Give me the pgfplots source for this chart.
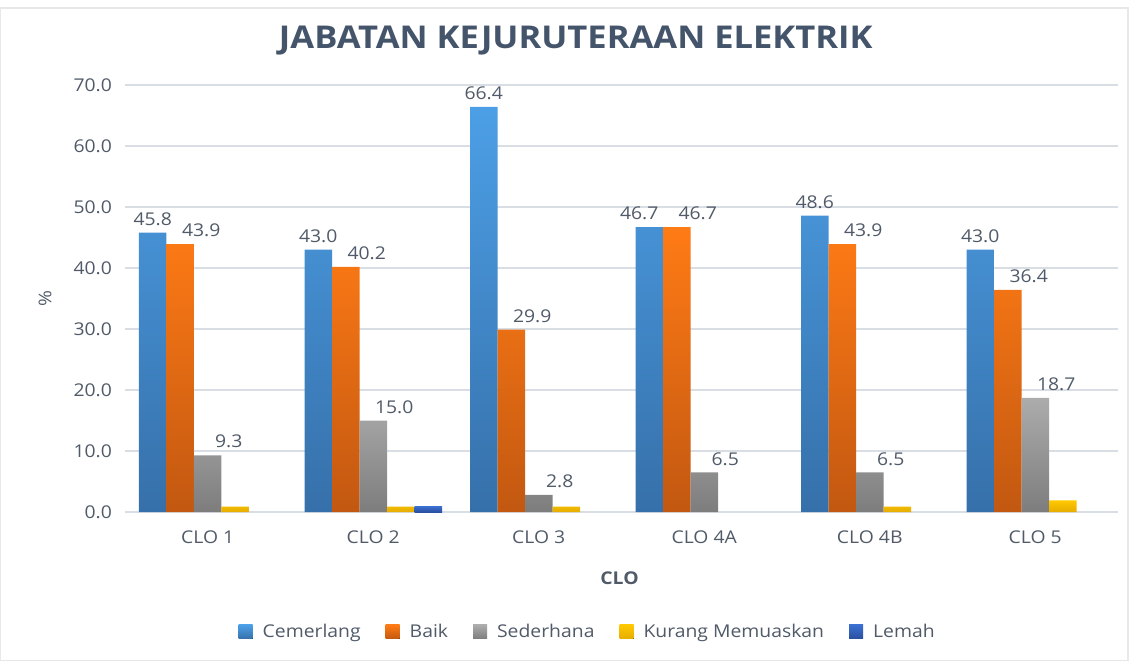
\documentclass[border=0pt]{standalone}
\usepackage{fontspec}
\setmainfont{Open Sans}[FakeStretch=1.1]
\usepackage{pgfplots}
\pgfplotsset{compat=1.18}
\definecolor{txt}{HTML}{505A68}
\definecolor{ttl}{HTML}{44546A}
\definecolor{gridc}{HTML}{D9DEE5}
\definecolor{blueT}{HTML}{4C9FE6}
\definecolor{blueB}{HTML}{3670AA}
\definecolor{orT}{HTML}{FF7B15}
\definecolor{orB}{HTML}{C25811}
\definecolor{grT}{HTML}{ACACAC}
\definecolor{grB}{HTML}{7D7D7D}
\definecolor{yeT}{HTML}{FFC800}
\definecolor{yeB}{HTML}{E6AC00}
\definecolor{leT}{HTML}{3A6FD0}
\definecolor{leB}{HTML}{2A4F9E}
\begin{document}
\begin{tikzpicture}
\path[use as bounding box] (0,0) rectangle (568pt,330.5pt);
\draw[gray!18, line width=0.6pt] (0.3pt,0.3pt) rectangle (564pt,326.5pt);
\begin{axis}[
  at={(62.5pt,74.5pt)}, anchor=south west,
  scale only axis, width=496.5pt, height=213.5pt,
  ybar=0pt, bar width=13.75pt,
  xmin=-0.5, xmax=5.5, ymin=0, ymax=70,
  xtick={0,...,5}, xticklabels={CLO 1,CLO 2,CLO 3,CLO 4A,CLO 4B,CLO 5},
  ytick={0,10,...,70},
  /pgf/number format/fixed, /pgf/number format/fixed zerofill, /pgf/number format/precision=1,
  /pgf/number format/assume math mode=true,
  yticklabel style={xshift=-3pt},
  xticklabel style={yshift=-6pt},
  major tick length=0pt,
  ymajorgrids, grid style={draw=gridc, line width=0.7pt},
  axis x line*=bottom, axis y line*=left,
  y axis line style={draw=none},
  x axis line style={draw=gridc, line width=0.7pt, -},
  tick label style={font=\fontsize{8.8}{10}\selectfont, text=txt},
  ylabel={\%},
  ylabel style={at={(axis description cs:-0.0806,0.5)}, anchor=center, font=\fontsize{8.8}{10}\selectfont, text=txt},
  xlabel={\textbf{CLO}},
  xlabel style={at={(axis description cs:0.498,0)}, yshift=-33pt, anchor=center, font=\fontsize{8.8}{10}\selectfont, text=txt},
  title={\textbf{JABATAN KEJURUTERAAN ELEKTRIK}},
  title style={at={(axis description cs:0.454,1)}, yshift=16pt, anchor=center, font=\fontsize{15.7}{18}\selectfont, text=ttl},
  legend style={at={(0.467,-0.281)}, anchor=center, draw=none, legend columns=-1,
    font=\fontsize{8.8}{10}\selectfont, text=txt,
    /tikz/every odd column/.append style={column sep=3pt},
    /tikz/every even column/.append style={column sep=10.5pt}},
  legend image code/.code={\fill[#1] (0pt,-3.5pt) rectangle (7pt,3.5pt);},
  every node near coord/.append style={font=\fontsize{8.8}{10}\selectfont, text=txt},
]
\addplot[draw=none, top color=blueT, bottom color=blueB, nodes near coords,
  visualization depends on={\coordindex \as \myidx},
  nodes near coords style={xshift={(\myidx==3)*(-5)}}]
  coordinates {(0,45.8) (1,43.0) (2,66.4) (3,46.7) (4,48.6) (5,43.0)};
\addplot[draw=none, top color=orT, bottom color=orB, nodes near coords,
  nodes near coords style={xshift=10.5pt}]
  coordinates {(0,43.9) (1,40.2) (2,29.9) (3,46.7) (4,43.9) (5,36.4)};
\addplot[draw=none, top color=grT, bottom color=grB, nodes near coords,
  nodes near coords style={xshift=10.5pt}]
  coordinates {(0,9.3) (1,15.0) (2,2.8) (3,6.5) (4,6.5) (5,18.7)};
\addplot[draw=none, top color=yeT, bottom color=yeB]
  coordinates {(0,0.9) (1,0.9) (2,0.9) (4,0.9) (5,1.9)};
\addplot[draw=none, top color=leT, bottom color=leB]
  coordinates {(1,0.9)};
\legend{Cemerlang,Baik,Sederhana,Kurang Memuaskan,Lemah}
\end{axis}
\end{tikzpicture}
\end{document}
